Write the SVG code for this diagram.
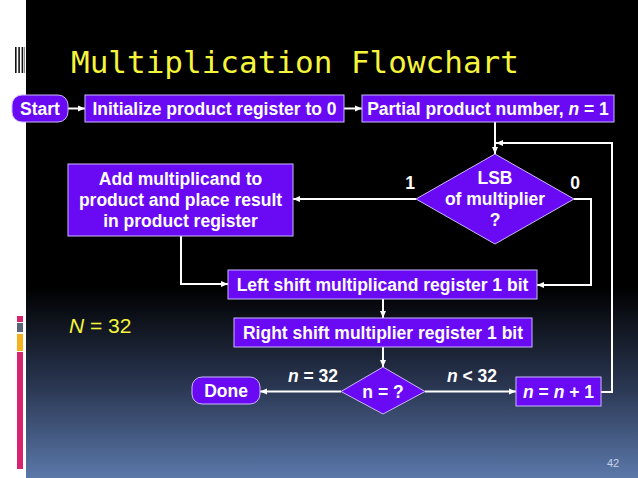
<svg xmlns="http://www.w3.org/2000/svg" width="638" height="478" viewBox="0 0 638 478">
  <defs>
    <linearGradient id="bg" x1="0" y1="0" x2="0" y2="1">
      <stop offset="0" stop-color="#000000"/>
      <stop offset="0.6" stop-color="#000000"/>
      <stop offset="0.8" stop-color="#28344e"/>
      <stop offset="1" stop-color="#5b78aa"/>
    </linearGradient>
    <marker id="ah" markerUnits="userSpaceOnUse" markerWidth="8" markerHeight="8" refX="7" refY="4" orient="auto">
      <path d="M0,1 L7,4 L0,7 z" fill="#ffffff"/>
    </marker>
    <style>
      .box { fill: #6a0af5; stroke: #c9b8ff; stroke-width: 1; }
      .t { font-family: "Liberation Sans", Arial, sans-serif; font-weight: bold; font-size: 17.5px; fill: #ffffff; text-anchor: middle; }
      .lbl { font-family: "Liberation Sans", Arial, sans-serif; font-weight: bold; font-size: 17.5px; fill: #ffffff; text-anchor: middle; }
      .conn { fill: none; stroke: #ffffff; stroke-width: 2; }
      .arr { marker-end: url(#ah); }
      .i { font-style: italic; }
    </style>
  </defs>

  <!-- slide background -->
  <rect x="0" y="0" width="638" height="478" fill="#ffffff"/>
  <rect x="26" y="0" width="612" height="478" fill="url(#bg)"/>
  <!-- left decorations -->
  <rect x="15" y="47" width="1.6" height="26" fill="#111111"/>
  <rect x="18.3" y="47" width="1.6" height="26" fill="#111111"/>
  <rect x="21.6" y="47" width="1.6" height="26" fill="#111111"/>
  <rect x="24" y="47" width="1" height="26" fill="#888888"/>
  <rect x="17" y="316" width="6" height="6" fill="#d6246e"/>
  <rect x="17" y="323" width="6" height="9" fill="#5a6478"/>
  <rect x="17" y="334" width="6" height="17" fill="#f3b21e"/>
  <rect x="17" y="352" width="6" height="117" fill="#d8246f"/>

  <!-- title -->
  <text x="71" y="73" font-family="'DejaVu Sans Mono', 'Liberation Mono', monospace" font-size="31" fill="#f5f53c">Multiplication Flowchart</text>

  <text x="69" y="333" font-family="'Liberation Sans', Arial, sans-serif" font-size="21" fill="#f5f53c"><tspan font-style="italic">N</tspan> = 32</text>
  <text x="613" y="467" font-family="'Liberation Sans', Arial, sans-serif" font-size="11" fill="#c8d2e6" text-anchor="middle">42</text>

  <!-- connectors -->
  <g id="connectors">
    <line class="conn arr" x1="68" y1="108.5" x2="85" y2="108.5"/>
    <line class="conn arr" x1="344" y1="108.5" x2="362" y2="108.5"/>
    <line class="conn arr" x1="495" y1="122" x2="495" y2="154"/>
    <polyline class="conn arr" points="601,392 612,392 612,143 496,143"/>
    <line class="conn arr" x1="416" y1="199" x2="293" y2="199"/>
    <polyline class="conn arr" points="574,199 591,199 591,285 537,285"/>
    <polyline class="conn arr" points="181,236 181,284 228,284"/>
    <line class="conn arr" x1="383" y1="299" x2="383" y2="318"/>
    <line class="conn arr" x1="383" y1="347" x2="383" y2="367"/>
    <line class="conn arr" x1="341" y1="391.5" x2="260" y2="391.5"/>
    <line class="conn arr" x1="425" y1="391.5" x2="516" y2="391.5"/>
    <text class="lbl" x="410" y="189">1</text>
    <text class="lbl" x="575" y="189">0</text>
    <text class="lbl" x="313" y="382"><tspan class="i">n</tspan> = 32</text>
    <text class="lbl" x="472" y="382"><tspan class="i">n</tspan> &lt; 32</text>
  </g>

  <g id="start">
    <rect class="box" x="12" y="95" width="56" height="27" rx="10"/>
    <text class="t" x="40" y="114.5">Start</text>
  </g>
  <g id="init">
    <rect class="box" x="85" y="95" width="259" height="27"/>
    <text class="t" x="214.5" y="114.5">Initialize product register to 0</text>
  </g>
  <g id="partial">
    <rect class="box" x="362" y="95" width="252" height="27"/>
    <text class="t" x="488" y="114.5">Partial product number, <tspan class="i">n</tspan> = 1</text>
  </g>
  <g id="lsb">
    <polygon class="box" points="495,154 574,199 495,244 416,199"/>
    <text class="t" x="495" y="184">LSB</text>
    <text class="t" x="495" y="205">of multiplier</text>
    <text class="t" x="495" y="226">?</text>
  </g>
  <g id="add">
    <rect class="box" x="68" y="164" width="225" height="72"/>
    <text class="t" x="180.5" y="185">Add multiplicand to</text>
    <text class="t" x="180.5" y="206">product and place result</text>
    <text class="t" x="180.5" y="227">in product register</text>
  </g>
  <g id="leftshift">
    <rect class="box" x="228" y="270" width="309" height="29"/>
    <text class="t" x="382.5" y="291">Left shift multiplicand register 1 bit</text>
  </g>
  <g id="rightshift">
    <rect class="box" x="234" y="318" width="298" height="29"/>
    <text class="t" x="383" y="339">Right shift multiplier register 1 bit</text>
  </g>
  <g id="ncheck">
    <polygon class="box" points="383,367 425,391.5 383,414 341,391.5"/>
    <text class="t" x="383" y="398">n = ?</text>
  </g>
  <g id="done">
    <rect class="box" x="192" y="377" width="68" height="27" rx="10"/>
    <text class="t" x="226" y="397">Done</text>
  </g>
  <g id="increment">
    <rect class="box" x="516" y="377" width="85" height="29"/>
    <text class="t" x="558.5" y="398"><tspan class="i">n</tspan> = <tspan class="i">n</tspan> + 1</text>
  </g>
</svg>
